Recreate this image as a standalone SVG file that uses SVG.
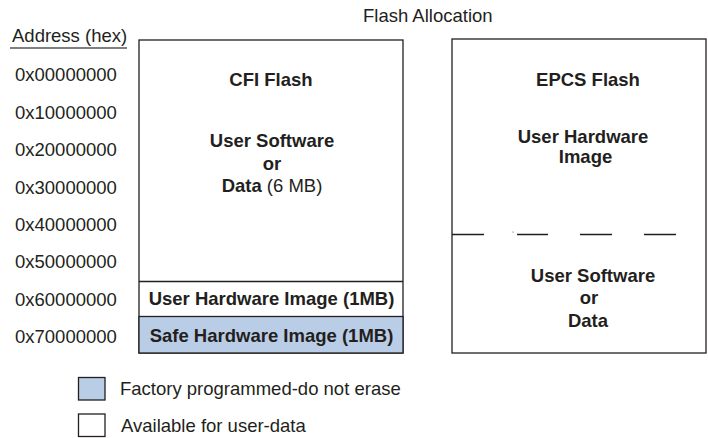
<svg xmlns="http://www.w3.org/2000/svg" width="708" height="438" viewBox="0 0 708 438">
<style>
text{font-family:"Liberation Sans",Arial,sans-serif;font-size:18.5px;fill:#231f20}
.b{font-weight:bold}
.c{text-anchor:middle}
.box{fill:#fff;stroke:#231f20;stroke-width:1.3}
.blue{fill:#bacde6;stroke:#231f20;stroke-width:1.3}
.ln{stroke:#231f20;stroke-width:1.3;fill:none}
</style>
<rect width="708" height="438" fill="#fff"/>
<text x="363" y="22">Flash Allocation</text>
<g id="addresses">
<text x="12" y="42">Address (hex)</text>
<line x1="10" y1="48" x2="127" y2="48" stroke="#555" stroke-width="1.5"/>
<text x="15" y="80.5">0x00000000</text>
<text x="15" y="119">0x10000000</text>
<text x="15" y="156">0x20000000</text>
<text x="15" y="193.5">0x30000000</text>
<text x="15" y="230.5">0x40000000</text>
<text x="15" y="268">0x50000000</text>
<text x="15" y="305.5">0x60000000</text>
<text x="15" y="343">0x70000000</text>
</g>
<g id="cfi">
<rect class="box" x="139" y="40" width="264" height="313"/>
<text class="b c" x="271" y="86">CFI Flash</text>
<text class="b c" x="272" y="147">User Software</text>
<text class="b c" x="272" y="170">or</text>
<text class="c" x="272" y="192"><tspan class="b">Data</tspan> (6 MB)</text>
</g>
<g id="cfi-user-hw">
<line class="ln" x1="139" y1="281.5" x2="403" y2="281.5"/>
<text class="b c" x="271.5" y="305">User Hardware Image (1MB)</text>
</g>
<g id="cfi-safe-hw">
<rect class="blue" x="139" y="316.5" width="264" height="36.5"/>
<text class="b c" x="271.5" y="342">Safe Hardware Image (1MB)</text>
</g>
<g id="epcs">
<rect class="box" x="452" y="39" width="254" height="314"/>
<text class="b c" x="588" y="86">EPCS Flash</text>
<text class="b c" x="583" y="143">User Hardware</text>
<text class="b c" x="585.5" y="163">Image</text>
<text class="b c" x="593" y="282">User Software</text>
<text class="b c" x="589" y="304">or</text>
<text class="b c" x="588" y="327">Data</text>
</g>
<g id="connectors">
<path class="ln" d="M452 234.5H484M517 234.5H548M580 234.5H612M644 234.5H676"/>
<circle cx="513" cy="232" r="0.6" fill="#555"/>
</g>
<g id="legend">
<rect class="blue" x="78.5" y="377.5" width="26.5" height="22.5"/>
<text x="120" y="395">Factory programmed-do not erase</text>
<rect class="box" x="78.5" y="414" width="26.5" height="22.5"/>
<text x="121" y="432">Available for user-data</text>
</g>
</svg>
